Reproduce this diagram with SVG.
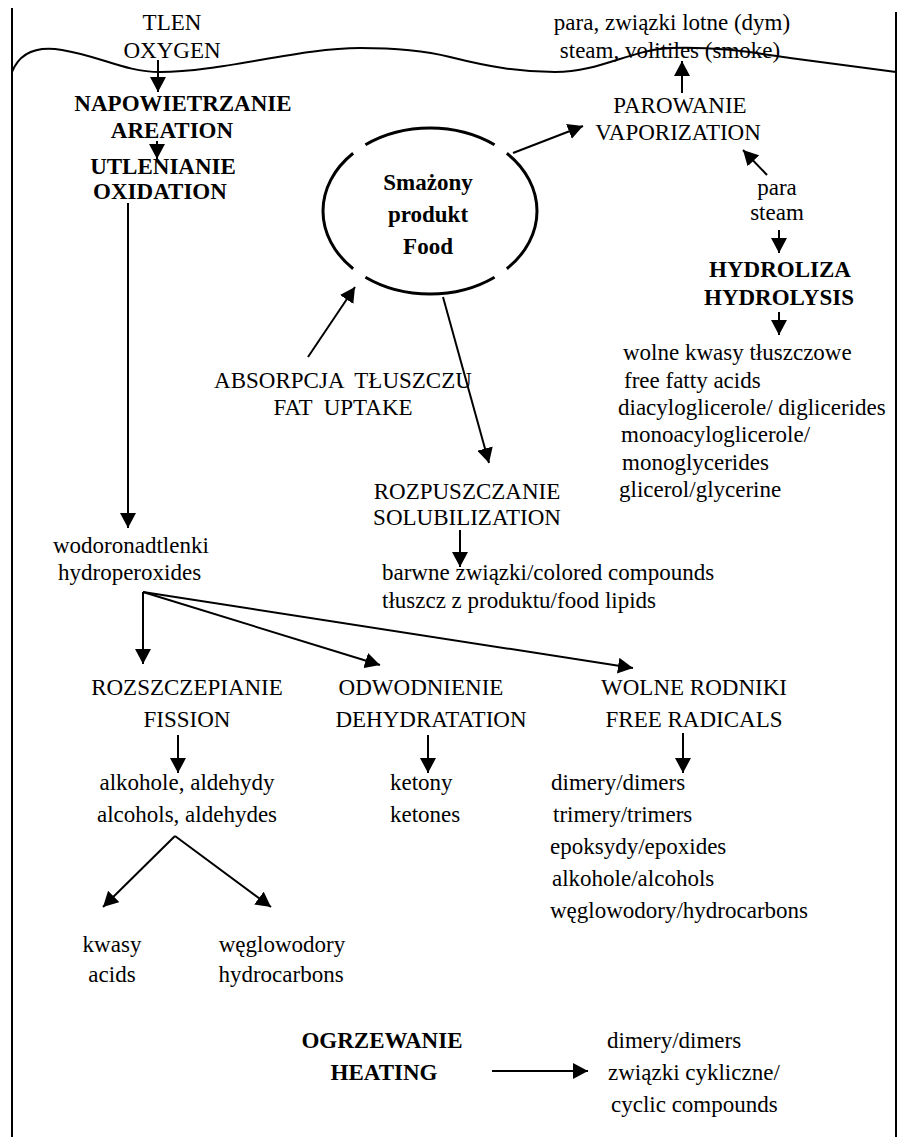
<svg xmlns="http://www.w3.org/2000/svg" width="901" height="1139" viewBox="0 0 901 1139">
<defs>
<style>
text{font-family:"Liberation Serif","Times New Roman",serif;font-size:23px;fill:#000;white-space:pre}
.b{font-weight:bold}
.m{text-anchor:middle}
.ln{stroke:#000;stroke-width:2;fill:none}
.ar{stroke:#000;stroke-width:2;fill:none;marker-end:url(#ah)}
</style>
<marker id="ah" viewBox="0 0 15 16" refX="15" refY="8" markerWidth="15" markerHeight="16" markerUnits="userSpaceOnUse" orient="auto"><path d="M0,0 L15,8 L0,16 z" fill="#000"/></marker>
</defs>
<rect width="901" height="1139" fill="#fff"/>
<g id="frame">
<line class="ln" x1="12" y1="8" x2="12" y2="1137"/>
<line class="ln" x1="896" y1="12" x2="896" y2="1137"/>
<path class="ln" d="M12,72 C20,52 38,46 62,50 C100,56 125,72 160,72 C220,72 300,48 360,48 C400,48 430,52 450,57 C490,67 520,72 555,72 C600,72 630,50 670,48 C720,46 760,54 790,58 L896,72"/>
</g>
<g id="connectors">
<line class="ar" x1="158" y1="60" x2="158" y2="92"/>
<line class="ar" x1="157" y1="141" x2="157" y2="159"/>
<line class="ar" x1="128" y1="203" x2="128" y2="528"/>
<line class="ar" x1="143" y1="592" x2="143" y2="664"/>
<line class="ar" x1="143" y1="592" x2="380" y2="665"/>
<line class="ar" x1="143" y1="592" x2="633" y2="668"/>
<line class="ar" x1="178" y1="735" x2="178" y2="773"/>
<line class="ar" x1="175" y1="836" x2="103" y2="907"/>
<line class="ar" x1="175" y1="836" x2="271" y2="907"/>
<line class="ar" x1="428" y1="735" x2="428" y2="773"/>
<line class="ar" x1="683" y1="733" x2="683" y2="773"/>
<line class="ar" x1="308" y1="357" x2="355" y2="287"/>
<line class="ar" x1="443" y1="297" x2="489" y2="463"/>
<line class="ar" x1="460" y1="530" x2="460" y2="567"/>
<line class="ar" x1="513" y1="153" x2="583" y2="126"/>
<line class="ar" x1="682" y1="93" x2="682" y2="61"/>
<line class="ar" x1="767" y1="175" x2="743" y2="150"/>
<line class="ar" x1="779" y1="230" x2="779" y2="253"/>
<line class="ar" x1="779" y1="312" x2="779" y2="335"/>
<line class="ar" x1="492" y1="1071" x2="588" y2="1071"/>
</g>
<g id="oxygen"><text class="m" x="172" y="30">TLEN</text><text class="m" x="172" y="58">OXYGEN</text></g>
<g id="aeration"><text class="b m" x="183" y="111">NAPOWIETRZANIE</text><text class="b m" x="172" y="138">AREATION</text></g>
<g id="oxidation"><text class="b m" x="163" y="174">UTLENIANIE</text><text class="b m" x="160" y="199">OXIDATION</text></g>
<g id="food">
<ellipse cx="430" cy="211" rx="107" ry="83" fill="none" stroke="#000" stroke-width="3" pathLength="400" stroke-dasharray="45 10 45 0"/>
<text class="b m" x="428" y="190">Smażony</text><text class="b m" x="428" y="222">produkt</text><text class="b m" x="428" y="254">Food</text>
</g>
<g id="smoke"><text class="m" x="672" y="30">para, związki lotne (dym)</text><text class="m" x="670" y="58">steam, volitiles (smoke)</text></g>
<g id="vaporization"><text class="m" x="680" y="113">PAROWANIE</text><text class="m" x="678" y="140">VAPORIZATION</text></g>
<g id="steam"><text class="m" x="777" y="195">para</text><text class="m" x="777" y="220">steam</text></g>
<g id="hydrolysis"><text class="b m" x="780" y="277">HYDROLIZA</text><text class="b m" x="779" y="305">HYDROLYSIS</text></g>
<g id="hydrolysis-products">
<text x="623" y="360">wolne kwasy tłuszczowe</text>
<text x="624" y="388">free fatty acids</text>
<text x="618" y="415">diacyloglicerole/ diglicerides</text>
<text x="621" y="442">monoacyloglicerole/</text>
<text x="622" y="470">monoglycerides</text>
<text x="619" y="497">glicerol/glycerine</text>
</g>
<g id="fat-uptake"><text class="m" x="343" y="388">ABSORPCJA  TŁUSZCZU</text><text class="m" x="343" y="415">FAT  UPTAKE</text></g>
<g id="solubilization"><text class="m" x="467" y="499">ROZPUSZCZANIE</text><text class="m" x="467" y="525">SOLUBILIZATION</text></g>
<g id="solub-products"><text x="382" y="580">barwne związki/colored compounds</text><text x="382" y="608">tłuszcz z produktu/food lipids</text></g>
<g id="hydroperoxides"><text x="53" y="553">wodoronadtlenki</text><text x="58" y="580">hydroperoxides</text></g>
<g id="fission"><text class="m" x="187" y="695">ROZSZCZEPIANIE</text><text class="m" x="187" y="727">FISSION</text></g>
<g id="dehydration"><text class="m" x="421" y="695">ODWODNIENIE</text><text class="m" x="431" y="727">DEHYDRATATION</text></g>
<g id="radicals"><text class="m" x="694" y="695">WOLNE RODNIKI</text><text class="m" x="694" y="727">FREE RADICALS</text></g>
<g id="alcohols"><text class="m" x="187" y="790">alkohole, aldehydy</text><text class="m" x="187" y="822">alcohols, aldehydes</text></g>
<g id="ketones"><text x="390" y="790">ketony</text><text x="390" y="822">ketones</text></g>
<g id="radical-products">
<text x="551" y="790">dimery/dimers</text>
<text x="553" y="822">trimery/trimers</text>
<text x="550" y="854">epoksydy/epoxides</text>
<text x="552" y="886">alkohole/alcohols</text>
<text x="550" y="918">węglowodory/hydrocarbons</text>
</g>
<g id="acids"><text class="m" x="112" y="952">kwasy</text><text class="m" x="112" y="982">acids</text></g>
<g id="hydrocarbons"><text class="m" x="282" y="952">węglowodory</text><text class="m" x="281" y="982">hydrocarbons</text></g>
<g id="heating"><text class="b m" x="382" y="1048">OGRZEWANIE</text><text class="b m" x="384" y="1080">HEATING</text></g>
<g id="heating-products"><text x="607" y="1048">dimery/dimers</text><text x="608" y="1080">związki cykliczne/</text><text x="611" y="1112">cyclic compounds</text></g>
</svg>
